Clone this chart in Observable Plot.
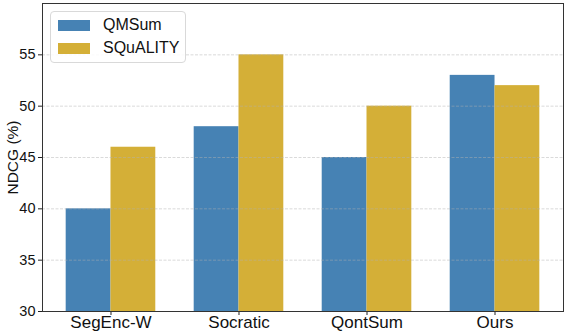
<!DOCTYPE html>
<html>
<head>
<meta charset="utf-8">
<script src="https://cdn.jsdelivr.net/npm/d3@7"></script>
<script src="https://cdn.jsdelivr.net/npm/@observablehq/plot@0.6"></script>
<style>
  body { margin: 0; background: #fff; font-family: "Liberation Sans", Arial, sans-serif; }
  #wrap { position: relative; width: 564px; height: 332px; }
  #legend { position: absolute; left: 50px; top: 11px; width: 134px; height: 50px;
    border: 1px solid #d9d9d9; border-radius: 4px; background: rgba(255,255,255,0.85);
    font-size: 16px; color: #111; }
  .row { position: absolute; left: 7px; height: 12px; display: flex; align-items: center; }
  .sw { width: 32px; height: 11px; margin-right: 13px; }
</style>
</head>
<body>
<div id="wrap"></div>
<script>
const categories = ["SegEnc-W", "Socratic", "QontSum", "Ours"];
const seriesNames = ["QMSum", "SQuALITY"];
const qmsum = [40, 48, 45, 53];
const squality = [46, 55, 50, 52];
const colors = ["#4682b4", "#d4af37"];
const yTicks = [30, 35, 40, 45, 50, 55];
const yLabel = "NDCG (%)";

const barW = 0.35;
const rows = [];
categories.forEach((c, i) => {
  rows.push({i, cat: c, s: 0, value: qmsum[i]});
  rows.push({i, cat: c, s: 1, value: squality[i]});
});

const chart = Plot.plot({
  width: 564,
  height: 332,
  marginLeft: 42,
  marginRight: 1,
  marginTop: 3,
  marginBottom: 21,
  style: {fontFamily: "'Liberation Sans', Arial, sans-serif", color: "#111", background: "#fff"},
  x: {type: "linear", domain: [-0.535, 3.535]},
  y: {domain: [30, 60]},
  marks: [
    Plot.rectY(rows, {
      x1: d => d.i + (d.s === 0 ? -barW : 0),
      x2: d => d.i + (d.s === 0 ? 0 : barW),
      y1: 0,
      y2: "value",
      fill: d => colors[d.s],
      clip: true
    }),
    Plot.gridY(yTicks, {stroke: "#b0b0b0", strokeOpacity: 0.6, strokeDasharray: "3,1.5", strokeWidth: 0.8}),
    Plot.axisY(yTicks, {tickSize: 4, fontSize: 14.5, tickPadding: 3, label: yLabel, labelAnchor: "center", labelArrow: "none", labelOffset: 36, stroke: "#222"}),
    Plot.axisX([0, 1, 2, 3], {tickSize: 4, fontSize: 17, tickPadding: 0, tickFormat: i => categories[i], label: null, stroke: "#222"}),
    Plot.frame({stroke: "#333", strokeWidth: 1})
  ]
});

// enlarge the y-axis title to match the reference
chart.querySelectorAll("text").forEach(t => {
  if (t.textContent === yLabel) {
    t.setAttribute("font-size", "15.5");
    t.style.fontSize = "15.5px";
  }
});

const wrap = document.getElementById("wrap");
wrap.appendChild(chart);

const legend = document.createElement("div");
legend.id = "legend";
seriesNames.forEach((name, k) => {
  const r = document.createElement("div");
  r.className = "row";
  r.style.top = (k === 0 ? 7 : 30) + "px";
  const sw = document.createElement("div");
  sw.className = "sw";
  sw.style.background = colors[k];
  const t = document.createElement("span");
  t.textContent = name;
  r.appendChild(sw);
  r.appendChild(t);
  legend.appendChild(r);
});
wrap.appendChild(legend);
</script>
</body>
</html>
